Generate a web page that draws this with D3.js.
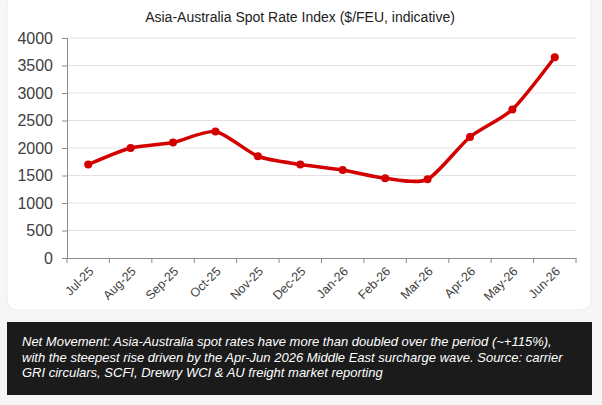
<!DOCTYPE html>
<html>
<head>
<meta charset="utf-8">
<script src="https://cdn.jsdelivr.net/npm/d3@7"></script>
<style>
  body { margin: 0; background: #f6f6f6; font-family: "Liberation Sans", Arial, sans-serif; }
  svg { display: block; }
</style>
</head>
<body>
<div id="vis"></div>
<script>
'use strict';

// data
var months = ['Jul-25', 'Aug-25', 'Sep-25', 'Oct-25', 'Nov-25', 'Dec-25',
    'Jan-26', 'Feb-26', 'Mar-26', 'Apr-26', 'May-26', 'Jun-26'];
var spotRates = [1700, 2000, 2100, 2300, 1850, 1700, 1600, 1450, 1430, 2200, 2700, 3650];
var yTicks = [0, 500, 1000, 1500, 2000, 2500, 3000, 3500, 4000];
var title = 'Asia-Australia Spot Rate Index ($/FEU, indicative)';
var noteLines = [
    'Net Movement: Asia-Australia spot rates have more than doubled over the period (~+115%),',
    'with the steepest rise driven by the Apr-Jun 2026 Middle East surcharge wave. Source: carrier',
    'GRI circulars, SCFI, Drewry WCI & AU freight market reporting'
];

//layout
var W = 602, H = 405;
var margin = { top: 38, right: 26, bottom: 147, left: 67 };
var dim = { w: W - margin.left - margin.right, h: H - margin.top - margin.bottom };

var svg = d3.select('#vis').append('svg')
    .attr('width', W)
    .attr('height', H);

//card
svg.append('rect')
    .attr('x', 7).attr('y', -8)
    .attr('width', 584).attr('height', 318)
    .attr('rx', 10)
    .style('fill', '#fff')
    .style('stroke', '#ececec');

svg.append('text')
    .attr('x', 300).attr('y', 22)
    .attr('text-anchor', 'middle')
    .style('font-size', '14px')
    .style('fill', '#222')
    .text(title);

var g = svg.append('g')
    .attr('transform', 'translate(' + margin.left + ',' + margin.top + ')');

var x = d3.scaleBand().domain(months).range([0, dim.w]);
var y = d3.scaleLinear().domain([0, 4000]).range([dim.h, 0]);

//gridlines
g.selectAll('.grid')
    .data(yTicks.slice(1))
    .enter().append('line')
    .attr('x1', 0).attr('x2', dim.w)
    .attr('y1', function (d) { return y(d); })
    .attr('y2', function (d) { return y(d); })
    .style('stroke', '#e2e2e2')
    .style('stroke-width', 1);

//y axis
var yAxis = g.append('g')
    .call(d3.axisLeft(y).tickValues(yTicks).tickFormat(d3.format('d')).tickSize(5).tickPadding(9));
yAxis.select('.domain').style('stroke', '#8c8c8c');
yAxis.selectAll('.tick line').style('stroke', '#8c8c8c');
yAxis.selectAll('text')
    .style('font-family', '"Liberation Sans", Arial, sans-serif')
    .style('font-size', '16px')
    .style('fill', '#404040');

//x axis, ticks between categories
var xAxis = g.append('g')
    .attr('transform', 'translate(0,' + dim.h + ')')
    .call(d3.axisBottom(x).tickSize(0).tickSizeOuter(0).tickPadding(0));
xAxis.select('.domain').style('stroke', '#8c8c8c');
xAxis.selectAll('.tick line').remove();
xAxis.selectAll('.sep')
    .data(d3.range(months.length + 1))
    .enter().append('line')
    .attr('x1', function (i) { return i * x.step(); })
    .attr('x2', function (i) { return i * x.step(); })
    .attr('y1', 0).attr('y2', 5)
    .style('stroke', '#8c8c8c');
xAxis.selectAll('.tick text')
    .attr('transform', 'translate(3,11) rotate(-45)')
    .attr('dy', '0.35em')
    .style('text-anchor', 'end')
    .style('font-family', '"Liberation Sans", Arial, sans-serif')
    .style('font-size', '12.5px')
    .style('fill', '#404040');

//line
var line = d3.line()
    .x(function (d, i) { return x(months[i]) + x.bandwidth() / 2; })
    .y(function (d) { return y(d); })
    .curve(d3.curveCardinal.tension(0.3));

g.append('path')
    .datum(spotRates)
    .attr('d', line)
    .style('fill', 'none')
    .style('stroke', '#d40000')
    .style('stroke-width', 3.5)
    .style('stroke-linejoin', 'round');

g.selectAll('.dot')
    .data(spotRates)
    .enter().append('circle')
    .attr('cx', function (d, i) { return x(months[i]) + x.bandwidth() / 2; })
    .attr('cy', function (d) { return y(d); })
    .attr('r', 4)
    .style('fill', '#d40000');

//note box
svg.append('rect')
    .attr('x', 7).attr('y', 322)
    .attr('width', 585).attr('height', 73)
    .style('fill', '#1b1b1b');

svg.selectAll('.note')
    .data(noteLines)
    .enter().append('text')
    .attr('x', 22)
    .attr('y', function (d, i) { return 346 + i * 15.5; })
    .style('font-size', '13px')
    .style('font-style', 'italic')
    .style('fill', '#fff')
    .text(function (d) { return d; });
</script>
</body>
</html>
